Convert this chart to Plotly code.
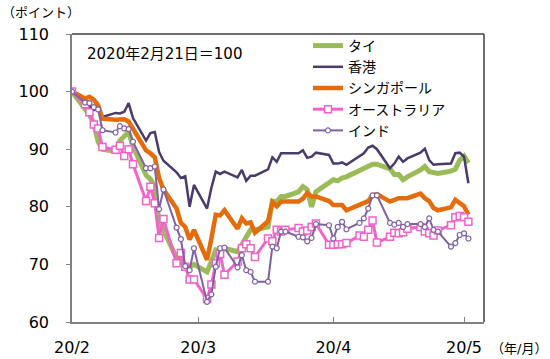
import plotly.graph_objects as go

dates = [
    "2020-02-21",
    "2020-02-24", "2020-02-25", "2020-02-26", "2020-02-27", "2020-02-28",
    "2020-03-02", "2020-03-03", "2020-03-04", "2020-03-05", "2020-03-06",
    "2020-03-09", "2020-03-10", "2020-03-11", "2020-03-12", "2020-03-13",
    "2020-03-16", "2020-03-17", "2020-03-18", "2020-03-19", "2020-03-20",
    "2020-03-23", "2020-03-24", "2020-03-25", "2020-03-26", "2020-03-27",
    "2020-03-30", "2020-03-31", "2020-04-01", "2020-04-02", "2020-04-03",
    "2020-04-06", "2020-04-07", "2020-04-08", "2020-04-09", "2020-04-10",
    "2020-04-13", "2020-04-14", "2020-04-15", "2020-04-16", "2020-04-17",
    "2020-04-20", "2020-04-21", "2020-04-22", "2020-04-23", "2020-04-24",
    "2020-04-27", "2020-04-28", "2020-04-29", "2020-04-30", "2020-05-01",
    "2020-05-04", "2020-05-05", "2020-05-06", "2020-05-07", "2020-05-08",
    "2020-05-11", "2020-05-12", "2020-05-13", "2020-05-14", "2020-05-15",
    "2020-05-18", "2020-05-19", "2020-05-20", "2020-05-21", "2020-05-22",
]

thailand = [100, 97.0, 96.0, 94.5, 91.3, 90.0,
            89.6, 91.5, 92.3, 93.0, 90.5,
            85.5, 84.8, 83.5, 77.0, 76.0,
            71.1, 70.5, 69.3, 69.5, 70.0,
            68.7, 70.5, 72.5, 72.2, 72.8,
            72.2, 73.5, 75.1, 76.0, 76.0,
            76.5, 81.0, 80.9, 81.8, 81.8,
            82.6, 83.5, 83.0, 80.0, 82.6,
            84.0, 84.7, 84.5, 85.0, 85.2,
            86.3, 86.8, 87.2, 87.4, 87.4,
            86.6, 85.6, 85.6, 84.7, 85.2,
            86.4, 87.0, 86.1, 85.9, 85.8,
            86.2, 86.5, 88.1, 88.8, 87.6]

hongkong = [100, 98.3, 97.5, 96.8, 97.0, 95.6,
            96.3, 96.2, 96.5, 98.0, 95.4,
            91.5, 92.8, 93.0, 89.5, 88.0,
            86.0, 85.0, 85.3, 80.0, 83.8,
            79.7, 83.3, 86.1, 85.7, 86.1,
            85.1, 86.4, 84.5, 85.4, 85.4,
            86.5, 88.6, 87.8, 89.3, 89.3,
            89.3, 89.8, 88.5, 88.7, 89.4,
            89.0, 87.5, 87.5, 87.7, 87.3,
            88.7, 89.3, 90.3, 90.6, 90.0,
            86.7, 87.5, 88.7, 87.8, 88.4,
            89.4, 90.1, 88.1, 87.3, 87.4,
            87.5, 89.3, 89.4, 88.7, 84.1]

singapore = [100, 98.8, 99.1, 98.6, 97.6, 95.3,
             95.1, 95.2, 95.2, 94.8, 93.6,
             89.8, 89.3, 88.6, 85.0, 83.0,
             79.7, 77.2, 76.5, 74.3, 76.0,
             70.8, 74.5, 78.6, 78.5, 79.4,
             76.2, 78.0, 77.1, 77.3, 75.5,
             77.5, 80.8, 80.1, 80.9, 80.9,
             80.9, 81.4, 82.4, 81.8, 81.8,
             81.0, 80.3, 80.3, 80.3, 79.4,
             80.3, 80.7, 81.0, 82.0, 82.2,
             80.9, 81.2, 81.5, 81.5, 81.5,
             82.3, 81.5, 81.0, 79.8, 79.4,
             79.9, 81.2, 80.6, 80.1, 78.6]

australia = [100, 97.8, 96.4, 94.3, 93.6, 90.4,
             89.9, 90.6, 88.8, 90.0, 87.4,
             81.0, 83.5, 80.6, 74.6, 77.9,
             70.2, 72.0, 69.6, 67.4, 67.4,
             64.0, 66.5, 70.2, 71.8, 68.2,
             70.5, 72.8, 73.5, 72.8, 71.3,
             74.5, 74.0, 76.0, 75.7, 76.0,
             76.3, 75.7, 75.9, 76.5, 77.1,
             73.4, 73.4, 73.5, 73.5, 73.7,
             75.0, 74.8, 76.0, 77.6, 73.8,
             74.8, 75.5, 75.4, 75.6, 76.2,
             76.5, 75.7, 75.4, 75.0, 75.9,
             76.8, 78.2, 78.4, 78.2, 77.4]

india = [100, 98.1, 98.0, 97.3, 96.9, 93.3,
         92.9, 94.0, 93.6, 93.5, 91.3,
         86.7, 86.7, 87.0, 79.6, 83.0,
         76.4, 74.4, 69.7, 69.0, 72.8,
         63.5, 64.8, 69.6, 72.8, 72.9,
         69.5, 71.6, 69.0, 68.7, 67.0,
         67.0, 73.1, 72.8, 75.7, 75.7,
         74.8, 74.7, 74.0, 74.6, 77.0,
         76.8, 74.5, 76.5, 77.4, 76.1,
         77.2, 78.0, 79.7, 82.0, 82.0,
         77.2, 76.9, 77.2, 76.5, 77.0,
         77.0, 76.5, 78.0, 76.0, 75.7,
         73.1, 73.7, 75.1, 75.4, 74.5]

series_names = ["タイ", "香港", "シンガポール", "オーストラリア", "インド"]
tick_dates = ["2020-02-21", "2020-03-21", "2020-04-21", "2020-05-21"]
tick_labels = ["20/2", "20/3", "20/4", "20/5"]
y_ticks = [60, 70, 80, 90, 100, 110]

FONT = "DejaVu Sans, Noto Sans CJK JP, sans-serif"

fig = go.Figure()
fig.add_trace(go.Scatter(x=dates, y=thailand, name=series_names[0], mode="lines",
                         line=dict(color="#9BBB59", width=5)))
fig.add_trace(go.Scatter(x=dates, y=hongkong, name=series_names[1], mode="lines",
                         line=dict(color="#4A3B6C", width=2.5)))
fig.add_trace(go.Scatter(x=dates, y=singapore, name=series_names[2], mode="lines",
                         line=dict(color="#E46C0A", width=4.5)))
fig.add_trace(go.Scatter(x=dates, y=australia, name=series_names[3], mode="lines+markers",
                         line=dict(color="#F263C9", width=3),
                         marker=dict(symbol="square", size=7, color="white",
                                     line=dict(color="#F263C9", width=1.5))))
fig.add_trace(go.Scatter(x=dates, y=india, name=series_names[4], mode="lines+markers",
                         line=dict(color="#7F62A1", width=2),
                         marker=dict(symbol="circle", size=5, color="white",
                                     line=dict(color="#7F62A1", width=1.2))))

L, R, T, B = 72, 484, 34, 322
W, H = 550, 359

def px(x):
    return (x - L) / (R - L)

def py(y):
    return (B - y) / (B - T)

fig.update_layout(
    width=W, height=H,
    margin=dict(l=L, r=W - R, t=T, b=H - B, autoexpand=False),
    paper_bgcolor="white", plot_bgcolor="white",
    font=dict(family=FONT, size=15, color="black"),
    showlegend=True,
    legend=dict(x=px(308), y=py(30), xanchor="left", yanchor="top",
                bgcolor="rgba(0,0,0,0)", font=dict(size=14),
                tracegroupgap=0, itemsizing="trace"),
    xaxis=dict(type="date", range=["2020-02-21", "2020-05-25 14:00"],
               tickvals=tick_dates, ticktext=tick_labels, automargin=False,
               ticks="inside", ticklen=5, tickcolor="#808080",
               showgrid=False, zeroline=False,
               showline=True, linecolor="#808080", linewidth=1.5, mirror=False,
               ticklabelstandoff=10, tickfont=dict(size=16)),
    yaxis=dict(range=[60, 110], tickvals=y_ticks, automargin=False,
               ticks="outside", ticklen=4, tickcolor="#808080",
               showgrid=False, zeroline=False,
               showline=True, linecolor="#808080", linewidth=1.5,
               ticklabelstandoff=14, tickfont=dict(size=16)),
)

# frame top/right
fig.add_shape(type="line", xref="paper", yref="paper", x0=0, x1=1, y0=1, y1=1,
              line=dict(color="#404040", width=1.5))
fig.add_shape(type="line", xref="paper", yref="paper", x0=1, x1=1, y0=0, y1=1,
              line=dict(color="#404040", width=1.5))

fig.add_annotation(text="2020年2月21日＝100", xref="paper", yref="paper",
                   x=px(85), y=py(54), xanchor="left", yanchor="middle",
                   showarrow=False, font=dict(size=15))
fig.add_annotation(text="（ポイント）", xref="paper", yref="paper",
                   x=px(0), y=py(13), xanchor="left", yanchor="middle",
                   showarrow=False, font=dict(size=13))
fig.add_annotation(text="（年/月）", xref="paper", yref="paper",
                   x=px(489), y=py(348), xanchor="left", yanchor="middle",
                   showarrow=False, font=dict(size=13))

fig.write_html("out.html", config={"displayModeBar": False},
               post_script="document.body.style.margin='0';"
                           "document.body.style.overflow='hidden';")
